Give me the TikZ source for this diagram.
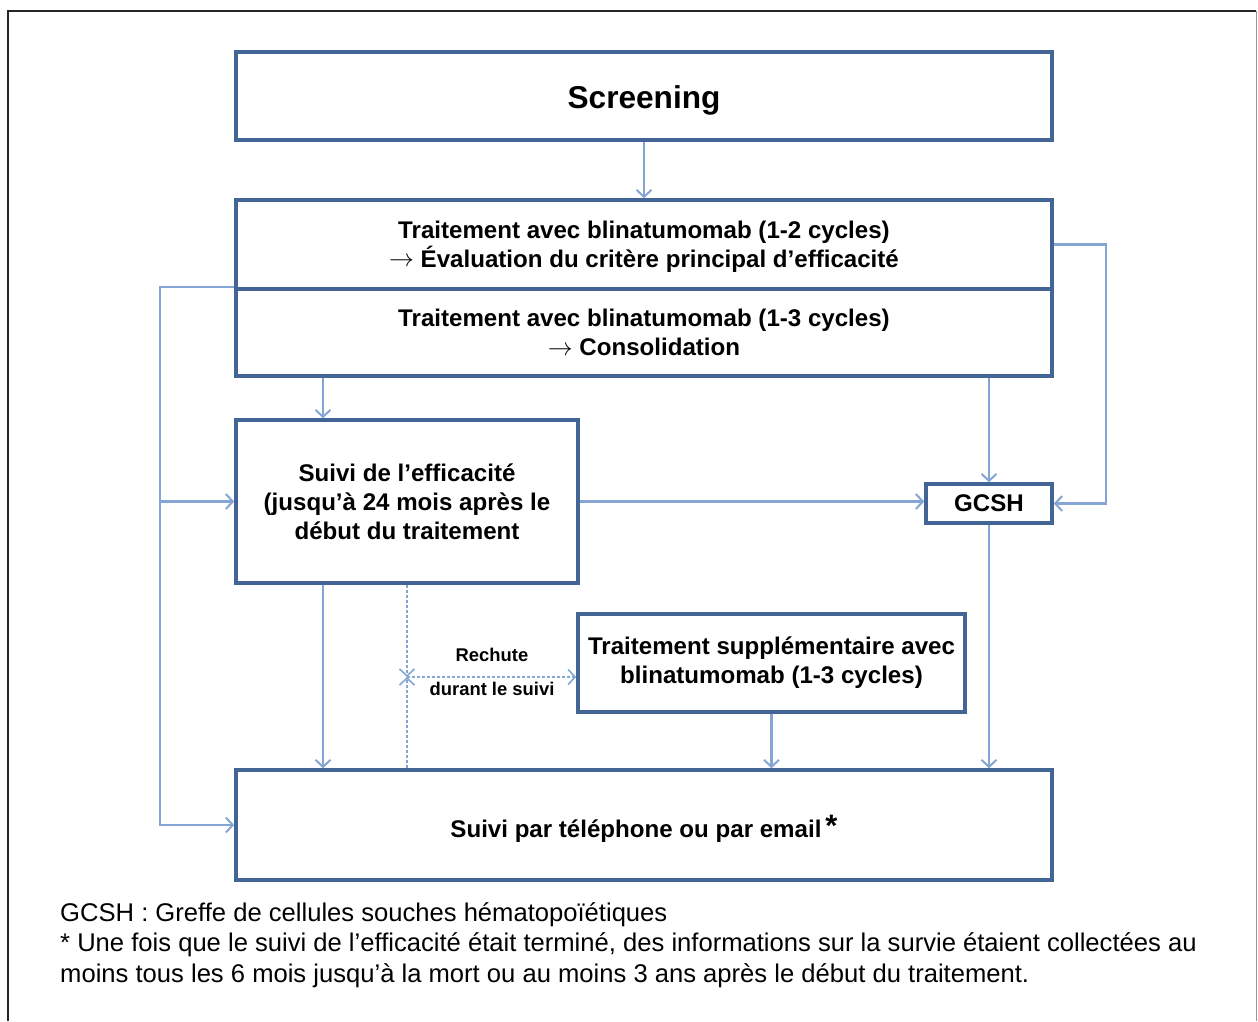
\documentclass[tikz,border=0pt]{standalone}
\usepackage{fontspec}
\setmainfont{Liberation Sans}
\usetikzlibrary{arrows.meta,calc}
\definecolor{boxblue}{RGB}{66,101,150}
\definecolor{linkblue}{RGB}{133,166,212}
\newcommand{\arr}{\raisebox{0.5pt}{$\rightarrow$}}
% lower the ink of a text without changing the size TikZ sees
\newcommand{\lowered}[2]{\raisebox{-#1}[\height][\depth]{#2}}
\begin{document}
\begin{tikzpicture}[x=1pt,y=-1pt,
  box/.style={draw=boxblue,line width=3.6pt,fill=white,inner sep=0pt,align=center,
    font=\bfseries\fontsize{24.1}{29}\selectfont},
  link/.style={draw=linkblue,line width=2.2pt,
    -{Straight Barb[length=7pt,width=15pt,line width=2pt]}},
  dlink/.style={draw=linkblue,line width=1.6pt,densely dashed,
    -{Straight Barb[length=7pt,width=15pt,line width=1.6pt]}},
  lbl/.style={font=\bfseries\fontsize{18.4}{22}\selectfont},
  foot/.style={anchor=base west,inner sep=0pt,font=\fontsize{25.6}{30}\selectfont}]
\useasboundingbox (0,0) rectangle (1258,1021);
\fill[white] (0,0) rectangle (1258,1021);
% outer frame
\draw[black!85,line width=2.6pt] (8,1021) -- (8,11) -- (1256,11);
\draw[black!40,line width=1pt] (1256,11) -- (1256,1021);

% boxes
\node[box,minimum width=816pt,minimum height=88pt,font=\bfseries\fontsize{31.6}{36}\selectfont] (scr) at (644,96) {\lowered{4pt}{Screening}};
\node[box,minimum width=816pt,minimum height=89pt] (trt1) at (644,244.5)
  {\lowered{2pt}{Traitement avec blinatumomab (1-2 cycles)}\\\lowered{2pt}{\arr{} Évaluation du critère principal d’efficacité}};
\node[box,minimum width=816pt,minimum height=87pt] (trt2) at (644,332.5)
  {Traitement avec blinatumomab (1-3 cycles)\\\arr{} Consolidation};
\node[box,minimum width=342pt,minimum height=163pt] (eff) at (407,501.5)
  {Suivi de l’efficacité\\(jusqu’à 24 mois après le\\début du traitement};
\node[box,minimum width=126pt,minimum height=39pt] (gcsh) at (989,503.5) {GCSH};
\node[box,minimum width=387pt,minimum height=98pt] (sup) at (771.5,663)
  {Traitement supplémentaire avec\\blinatumomab (1-3 cycles)};
\node[box,minimum width=816pt,minimum height=110pt] (bot) at (644,825)
  {\lowered{4pt}{Suivi par téléphone ou par email\,\raisebox{1pt}{\fontsize{31}{31}\selectfont *}}};

% helper columns
\coordinate (xa) at (323,0);
\coordinate (xl) at (160,0);
\coordinate (xr) at (1106,0);
\coordinate (rel) at (407,677);

% connectors
\draw[link] (scr.south) -- (trt1.north);
\draw[link] (trt1.east) -- (trt1.east -| xr) |- (gcsh.east);
\draw[link] (trt2.north west) -- (trt2.north west -| xl) |- (bot.west);
\draw[link] (xl |- eff.west) -- (eff.west);
\draw[link] (trt2.south -| xa) -- (eff.north -| xa);
\draw[link] (trt2.south -| gcsh.north) -- (gcsh.north);
\draw[link] (eff.east) -- (eff.east -| gcsh.west);
\draw[link] (eff.south -| xa) -- (bot.north -| xa);
\draw[link] (gcsh.south) -- (bot.north -| gcsh.south);
\draw[link] (sup.south) -- (bot.north -| sup.south);

% relapse path
\draw[dlink] (eff.south) -- (rel);
\draw[dlink] (bot.north -| rel) -- (rel);
\draw[dlink] (rel) -- (rel -| sup.west);
\node[lbl] (rech) at (492,655) {Rechute};
\node[lbl] (dur) at (492,689) {durant le suivi};

% footnotes
\node[foot] (f1) at (60,921) {GCSH : Greffe de cellules souches hématopoïétiques};
\node[foot] (f2) at (60,951) {* Une fois que le suivi de l’efficacité était terminé, des informations sur la survie étaient collectées au};
\node[foot] (f3) at (60,982) {moins tous les 6 mois jusqu’à la mort ou au moins 3 ans après le début du traitement.};
\end{tikzpicture}
\end{document}
